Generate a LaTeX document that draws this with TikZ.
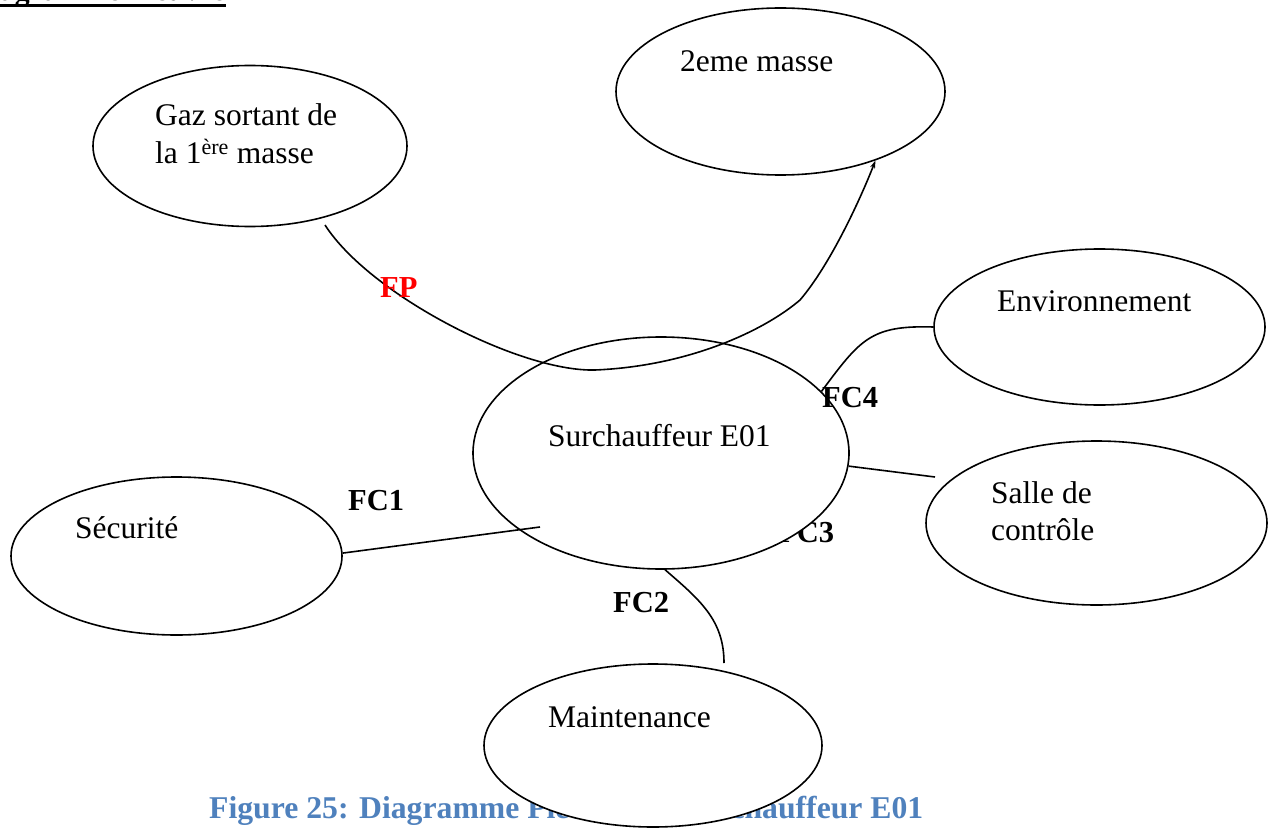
\documentclass[tikz,border=0pt]{standalone}
\usepackage{fontspec}
\setmainfont{Liberation Serif}
\usetikzlibrary{arrows.meta,shapes.geometric}
\definecolor{capblue}{RGB}{79,129,189}
\definecolor{fpred}{RGB}{255,0,0}
\begin{document}
\begin{tikzpicture}[x=1pt,y=-1pt,
  bub/.style={draw=black, line width=1.6pt, fill=white, ellipse, inner sep=0pt},
  txt/.style={inner sep=0pt, anchor=base west, font=\fontsize{31.5}{37.5}\selectfont},
  lbl/.style={inner sep=0pt, anchor=base west, font=\fontsize{30.5}{36}\selectfont\bfseries},
  link/.style={draw=black, line width=1.6pt},
]
\useasboundingbox (0,0) rectangle (1273,829);
\fill[white] (0,0) rectangle (1273,829);

% title (cut at the page edge) and caption
\node[inner sep=0pt, anchor=base west, font=\fontsize{29.8}{34}\selectfont\bfseries] (title) at (-30,1) {Diagramme Pieuvre};
\draw[line width=3pt] ([yshift=-4.5pt]title.base west) -- ([yshift=-4.5pt]title.base east);
\node[inner sep=0pt, anchor=base west, font=\fontsize{31.7}{36}\selectfont\bfseries, text=capblue] (cap) at (209,818) {Figure 25: Diagramme Pieuvre du Surchauffeur E01};

% label partly hidden by the central ellipse
\node[lbl] (fc3) at (778,542) {FC3};

% ellipses
\node[bub, minimum width=314pt, minimum height=161pt] (gaz) at (250,146) {};
\node[bub, minimum width=329pt, minimum height=167pt] (mas2) at (780.5,91.5) {};
\node[bub, minimum width=331pt, minimum height=156pt] (env) at (1099.5,327) {};
\node[bub, minimum width=341pt, minimum height=164pt] (salle) at (1096.5,523) {};
\node[bub, minimum width=331pt, minimum height=158pt] (sec) at (176.5,556) {};
\node[bub, minimum width=376pt, minimum height=232pt] (sur) at (661,453) {};
\node[bub, minimum width=338pt, minimum height=163pt] (maint) at (653,745.5) {};

% connectors
\coordinate (fpS) at (325,225);
\draw[link, -{Stealth[length=8pt,width=5pt]}] (fpS) .. controls (370,295) and (520,372) .. (595,370)
  .. controls (690,366) and (765,330) .. (800,300)
  .. controls (830,265) and (860,200) .. (mas2.-36);
\draw[link] (sur.21) .. controls (860,340) and (870,325) .. (env.west);
\coordinate (fc3E) at (935,477);
\draw[link] (sur.-4) -- (fc3E);
\coordinate (fc1E) at (540,527);
\draw[link] (sec.1) -- (fc1E);
\coordinate (fc2E) at (724,663);
\draw[link] (sur.-88) .. controls (700,600) and (724,620) .. (fc2E);

% texts
\node[txt] (gazT) at (155,126) {\begin{tabular}[t]{@{}l@{}}Gaz sortant de\\la 1\textsuperscript{ère} masse\end{tabular}};
\node[txt] (mas2T) at (680,72) {2eme masse};
\node[txt] (envT) at (997,311) {Environnement};
\node[txt] (salleT) at (991,503) {\begin{tabular}[t]{@{}l@{}}Salle de\\contrôle\end{tabular}};
\node[txt] (secT) at (75,538) {Sécurité};
\node[txt] (surT) at (548,446) {Surchauffeur E01};
\node[txt] (maintT) at (548,727) {Maintenance};

% labels
\node[lbl, text=fpred] (fp) at (380,297) {FP};
\node[lbl] (fc4) at (822,407) {FC4};
\node[lbl] (fc1) at (348,510) {FC1};
\node[lbl] (fc2) at (613,612) {FC2};
\end{tikzpicture}
\end{document}
